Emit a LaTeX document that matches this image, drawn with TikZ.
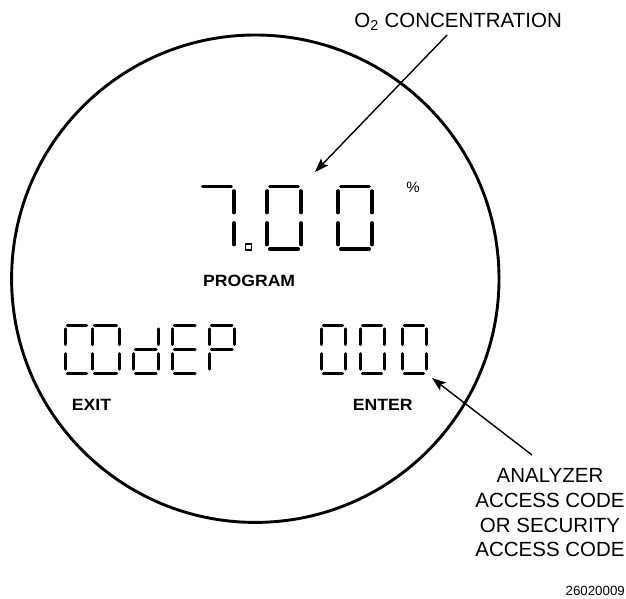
\documentclass[tikz,border=0pt]{standalone}
\usepackage{fontspec}
\setmainfont{Liberation Sans}
\usetikzlibrary{arrows.meta}
% seven-segment pieces (gh: bar inset, gv: vertical inset at ends, gm: gap at middle)
\def\lcdsegA{\draw (\lcdx+\lcdgh,\lcdy) -- (\lcdx+\lcdw-\lcdgh,\lcdy);}
\def\lcdsegB{\draw (\lcdx+\lcdw,\lcdy+\lcdgv) -- (\lcdx+\lcdw,\lcdy+0.5*\lcdh-\lcdgm);}
\def\lcdsegC{\draw (\lcdx+\lcdw,\lcdy+0.5*\lcdh+\lcdgm) -- (\lcdx+\lcdw,\lcdy+\lcdh-\lcdgv);}
\def\lcdsegD{\draw (\lcdx+\lcdgh,\lcdy+\lcdh) -- (\lcdx+\lcdw-\lcdgh,\lcdy+\lcdh);}
\def\lcdsegE{\draw (\lcdx,\lcdy+0.5*\lcdh+\lcdgm) -- (\lcdx,\lcdy+\lcdh-\lcdgv);}
\def\lcdsegF{\draw (\lcdx,\lcdy+\lcdgv) -- (\lcdx,\lcdy+0.5*\lcdh-\lcdgm);}
\def\lcdsegG{\draw (\lcdx+\lcdgh,\lcdy+0.5*\lcdh) -- (\lcdx+\lcdw-\lcdgh,\lcdy+0.5*\lcdh);}
\newcommand\lcddigit[6]{%
  \begin{scope}[line width=#5pt, line cap=round]
    \def\lcdx{#1}\def\lcdy{#2}\def\lcdw{#3}\def\lcdh{#4}%
    \pgfmathsetmacro\lcdgh{0.8*#5}%
    \pgfmathsetmacro\lcdgv{1.3*#5}%
    \pgfmathsetmacro\lcdgm{1.5*#5}%
    \foreach \s in {#6}{\csname lcdseg\s\endcsname}
  \end{scope}}
\begin{document}
\begin{tikzpicture}[x=1pt,y=-1pt,
  lbl/.style={inner sep=0pt, font=\fontsize{20.5}{24.7}\selectfont},
  lcdlbl/.style={inner sep=0pt, xscale=1.08, font=\bfseries\fontsize{16.3}{18}\selectfont},
  pointer/.style={line width=1.4pt, -{Stealth[length=14pt,width=10pt,inset=3pt]}}]
\useasboundingbox (0,0) rectangle (626,598);

% display outline
\draw[line width=2.9pt] (255.3,278.7) circle[radius=243.7pt];

% upper reading 7.00
\lcddigit{200}{186.5}{34}{62.5}{3.4}{A,B,C}
\lcddigit{267}{186.5}{34}{62.5}{3.4}{A,B,C,D,E,F}
\lcddigit{338}{186.5}{34}{62.5}{3.4}{A,B,C,D,E,F}
\draw[line width=1.5pt] (245.7,244) rectangle (251.7,250);
\node[inner sep=0pt, font=\fontsize{15}{16}\selectfont] (pct) at (413,187.5) {\%};

% lower row COdEP 000
\lcddigit{65}{325}{24}{48}{3}{A,D,E,F}
\lcddigit{92}{325}{27}{48}{3}{A,B,C,D,E,F}
\lcddigit{133}{325}{25.5}{48}{3}{B,C,D,E,G}
\lcddigit{172}{325}{25.5}{48}{3}{A,D,E,F,G}
\lcddigit{209}{325}{25.5}{48}{3}{A,B,E,F,G}
\lcddigit{321}{325}{24}{48}{3}{A,B,C,D,E,F}
\lcddigit{360}{325}{24}{48}{3}{A,B,C,D,E,F}
\lcddigit{402}{325}{24}{48}{3}{A,B,C,D,E,F}

% annunciators
\node[lcdlbl, anchor=base west] (prog) at (203,286.7) {PROGRAM};
\node[lcdlbl, anchor=base west] (exit) at (71.7,410.7) {EXIT};
\node[lcdlbl, anchor=base west] (enter) at (352.7,410.7) {ENTER};

% callouts
\node[lbl, anchor=base east] (o2) at (562,27) {O\textsubscript{2} CONCENTRATION};
\coordinate (o2from) at (447,35);
\coordinate (o2tip) at (315,172);
\draw[pointer] (o2from) -- (o2tip);

\node[lbl, align=center, anchor=north] (acc) at (550,468.3)
  {ANALYZER\\ACCESS CODE\\OR SECURITY\\ACCESS CODE};
\coordinate (accfrom) at (532,455);
\coordinate (acctip) at (432,378);
\draw[pointer] (accfrom) -- (acctip);

\node[inner sep=0pt, anchor=base east, font=\fontsize{13.3}{15}\selectfont] (fig) at (625,595) {26020009};
\end{tikzpicture}
\end{document}
